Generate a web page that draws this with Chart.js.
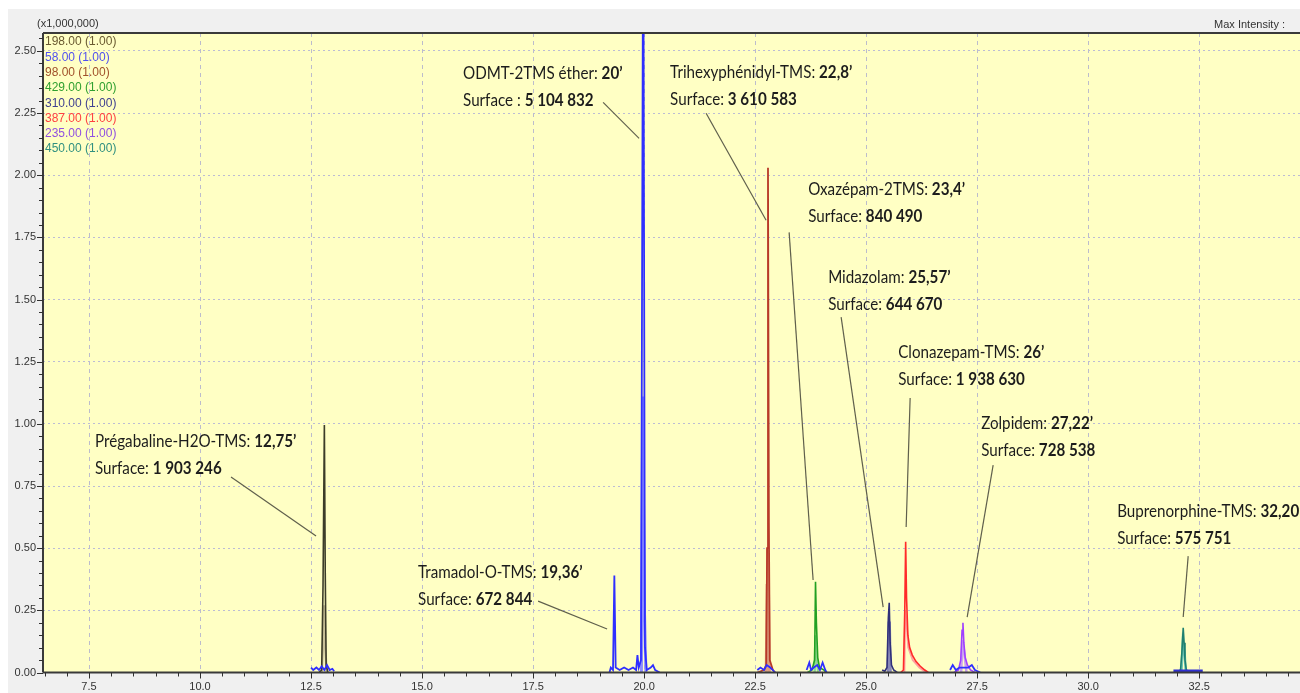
<!DOCTYPE html>
<html><head><meta charset="utf-8">
<script src="https://cdn.jsdelivr.net/npm/chart.js@4.4.0/dist/chart.umd.min.js"></script>
<style>html,body{margin:0;padding:0;background:#fff;overflow:hidden}</style>
</head><body>
<canvas id="c" width="1300" height="693"></canvas>
<script>
// ---------- DATA (retention time in min, intensity in x1,000,000) ----------
const xTickValues = [7.5, 10.0, 12.5, 15.0, 17.5, 20.0, 22.5, 25.0, 27.5, 30.0, 32.5];
const yTickValues = [0, 0.25, 0.5, 0.75, 1.0, 1.25, 1.5, 1.75, 2.0, 2.25, 2.5];
const ionLabels = ['198.00 (1.00)', '58.00 (1.00)', '98.00 (1.00)', '429.00 (1.00)', '310.00 (1.00)', '387.00 (1.00)', '235.00 (1.00)', '450.00 (1.00)'];

const ion198 = [[12.68,0],[12.74,0.01],[12.77,0.35],[12.80,0.995],[12.82,0.4],[12.84,0.03],[12.88,0]];
const ion198q = [[12.74,0],[12.78,0.15],[12.80,0.27],[12.82,0.1],[12.85,0]];

const ion58a = [[12.50,0.02],[12.55,0.01],[12.62,0.02],[12.68,0.01],[12.74,0.025],[12.80,0.01],[12.86,0.03],[12.92,0.01],[12.98,0.015],[13.02,0.005]];
const ion58b = [[19.22,0],[19.25,0.02],[19.30,0.01],[19.33,0.39],[19.36,0.02],[19.45,0.01],[19.55,0.02],[19.65,0.01],[19.75,0.02],[19.82,0.01],[19.85,0.07],[19.88,0.02],[19.93,0.05],[19.98,3.2],[20.02,0.1],[20.06,0.01],[20.15,0.02],[20.20,0.03],[20.25,0.01],[20.35,0]];
const ion58c = [[22.55,0.01],[22.62,0.02],[22.70,0.01],[22.76,0.03],[22.84,0.02],[22.90,0.01],[22.95,0]];
const ion58d = [[23.66,0.01],[23.72,0.04],[23.76,0.01],[23.82,0.02],[23.90,0.03],[23.96,0.01],[24.02,0.04],[24.08,0.01],[24.11,0]];
const ion58e = [[26.89,0.01],[26.95,0.03],[27.02,0.01],[27.10,0.02],[27.30,0.02],[27.38,0.03],[27.45,0.01],[27.57,0]];
const ion58f = [[31.92,0.006],[32.10,0.006],[32.30,0.006],[32.58,0.006]];
const ion58q = [[19.94,0],[19.97,1.11],[19.99,0.6],[20.01,0.23],[20.04,0]];

const ion98 = [[22.55,0],[22.70,0.01],[22.75,0.03],[22.77,0.5],[22.79,2.03],[22.81,0.6],[22.83,0.05],[22.90,0.01],[22.95,0]];
const ion98q = [[22.75,0],[22.77,0.35],[22.78,0.50],[22.80,0.35],[22.82,0]];

const ion429 = [[23.68,0],[23.78,0.01],[23.84,0.05],[23.86,0.365],[23.88,0.2],[23.91,0.06],[23.95,0.02],[24.05,0.01],[24.10,0]];
const ion429q = [[23.84,0],[23.86,0.15],[23.89,0.05],[23.92,0]];

const ion310 = [[25.36,0.01],[25.42,0.005],[25.47,0.02],[25.50,0.22],[25.52,0.28],[25.54,0.12],[25.57,0.03],[25.62,0.01],[25.70,0]];
const ion310q = [[25.49,0],[25.51,0.2],[25.53,0.2],[25.55,0]];

const ion387 = [[25.78,0],[25.84,0.01],[25.87,0.25],[25.89,0.526],[25.91,0.3],[25.94,0.15],[25.98,0.1],[26.04,0.07],[26.12,0.045],[26.22,0.025],[26.32,0.01],[26.40,0]];
const ion387q = [[25.86,0],[25.88,0.25],[25.91,0.2],[25.95,0.1],[26.05,0.05],[26.20,0.02],[26.35,0]];

const ion235 = [[26.98,0],[27.08,0.01],[27.13,0.05],[27.16,0.17],[27.18,0.20],[27.20,0.12],[27.23,0.06],[27.28,0.03],[27.35,0.01],[27.45,0]];
const ion235q = [[27.14,0],[27.17,0.13],[27.21,0.08],[27.26,0]];

const ion450 = [[31.98,0],[32.08,0.01],[32.11,0.08],[32.14,0.18],[32.16,0.12],[32.18,0.05],[32.21,0.01],[32.30,0]];
const ion450q = [[32.10,0],[32.13,0.12],[32.17,0.08],[32.20,0]];

// annotation texts
const annoName = ['Prégabaline-H2O-TMS: ','Tramadol-O-TMS: ','ODMT-2TMS éther: ','Trihexyphénidyl-TMS: ','Oxazépam-2TMS: ','Midazolam: ','Clonazepam-TMS: ','Zolpidem: ','Buprenorphine-TMS: '];
const annoTime = ['12,75’','19,36’','20’','22,8’','23,4’','25,57’','26’','27,22’','32,20’'];
const annoSurfLabel = ['Surface: ','Surface: ','Surface : ','Surface: ','Surface: ','Surface: ','Surface: ','Surface: ','Surface: '];
const annoSurface = ['1 903 246','672 844','5 104 832','3 610 583','840 490','644 670','1 938 630','728 538','575 751'];
// annotation layout in data units: text anchor [x,y], leader start [x,y], leader end [x,y]
const annoTextAt = [[7.635,0.906],[14.910,0.380],[15.923,2.386],[20.586,2.390],[23.694,1.919],[24.144,1.566],[25.721,1.264],[27.590,0.981],[30.653,0.625]];
const annoLeadFrom = [[10.698,0.786],[17.613,0.287],[19.077,2.293],[21.396,2.249],[23.266,1.770],[24.437,1.429],[25.991,1.104],[27.860,0.834],[32.252,0.468]];
const annoLeadTo = [[12.613,0.549],[19.167,0.175],[19.887,2.148],[22.748,1.819],[23.806,0.372],[25.383,0.263],[25.901,0.585],[27.275,0.223],[32.140,0.223]];

// ---------- STYLE ----------
const X_MIN = 6.464, X_MAX = 34.77, Y_MAX = 2.572;
const ionLegendColors = ['#6a5a30','#5050f0','#a0502a','#30a030','#404090','#ff4040','#9050e0','#309080'];
const pts = a => a.map(p => ({x:p[0], y:p[1]}));
const joinSegs = (...segs) => segs.reduce((acc, s, i) => acc.concat(i ? [{x:(acc[acc.length-1].x + s[0][0])/2, y:null}] : [], pts(s)), []);

function ds(data, color, width, order) {
  return {data: Array.isArray(data[0]) ? pts(data) : data, borderColor: color, borderWidth: width, order: order, pointRadius: 0, fill: false, spanGaps: false};
}
const datasets = [
  ds(ion198q, '#c8c098', 2.5, 5),
  ds(ion98q, '#dca080', 3, 5),
  ds(ion429q, '#90d890', 2.5, 5),
  ds(ion310q, '#8888b8', 2.5, 5),
  ds(ion387q, '#ffa0a0', 2, 5),
  ds(ion235q, '#c8a0f0', 2.5, 5),
  ds(ion450q, '#70c8b8', 2.5, 5),
  ds(ion58q, '#8c8cff', 3, 4),
  ds(ion198, '#3c3c28', 1.6, 2),
  ds(ion98, '#b83a28', 1.8, 2),
  ds(ion429, '#22a022', 1.6, 2),
  ds(ion310, '#30307a', 1.6, 2),
  ds(ion387, '#ff2a2a', 1.6, 2),
  ds(ion235, '#a040ff', 1.6, 2),
  ds(ion450, '#1f8070', 1.6, 2),
  ds(joinSegs(ion58a, ion58b, ion58c, ion58d, ion58e), '#2f2fff', 1.8, 1),
  ds(ion58f, '#2f2fd0', 3, 1)
];

const TEXT_SX = 0.92;
const framePlugin = {
  id: 'frame',
  beforeDraw(chart) {
    const {ctx, chartArea: a} = chart;
    ctx.save();
    ctx.fillStyle = '#ffffff';
    ctx.fillRect(0, 0, chart.width, chart.height);
    ctx.fillStyle = '#f0f0f0';
    ctx.fillRect(8, 9, chart.width - 8, chart.height - 9);
    ctx.fillStyle = '#ffffc4';
    ctx.fillRect(a.left, a.top, a.right - a.left, a.bottom - a.top);
    ctx.restore();
  },
  afterDraw(chart) {
    const {ctx, chartArea: a} = chart;
    const xs = chart.scales.x, ys = chart.scales.y;
    ctx.save();
    // axes & frame
    ctx.strokeStyle = '#3a3a3a';
    ctx.lineWidth = 2;
    ctx.beginPath();
    ctx.moveTo(a.left, a.top); ctx.lineTo(a.right, a.top);
    ctx.moveTo(a.left, a.top); ctx.lineTo(a.left, a.bottom);
    ctx.moveTo(a.left, a.bottom); ctx.lineTo(a.right, a.bottom);
    ctx.stroke();
    // tick marks
    ctx.lineWidth = 1;
    ctx.strokeStyle = '#303030';
    ctx.beginPath();
    for (let v = 6.5; v <= X_MAX; v += 0.5) {
      const px = Math.round(xs.getPixelForValue(v)) + 0.5;
      const major = Math.abs(v / 2.5 - Math.round(v / 2.5)) < 1e-6;
      ctx.moveTo(px, a.bottom); ctx.lineTo(px, a.bottom + (major ? 6 : 4));
    }
    for (let v = 0; v <= Y_MAX; v += 0.05) {
      const py = Math.round(ys.getPixelForValue(v)) + 0.5;
      const major = Math.abs(v / 0.25 - Math.round(v / 0.25)) < 1e-6;
      ctx.moveTo(a.left, py); ctx.lineTo(a.left - (major ? 6 : 4), py);
    }
    ctx.stroke();
    // header texts
    ctx.fillStyle = '#333';
    ctx.font = '11px "Liberation Sans", Arial, sans-serif';
    ctx.textBaseline = 'middle';
    ctx.textAlign = 'left';
    ctx.fillText('(x1,000,000)', 37, 24);
    ctx.textAlign = 'right';
    ctx.fillText('Max Intensity :', 1285, 25);
    // ion legend
    ctx.textAlign = 'left';
    ctx.font = '12px "Liberation Sans", Arial, sans-serif';
    ionLabels.forEach((t, i) => {
      ctx.fillStyle = ionLegendColors[i];
      ctx.fillText(t, 45, 42 + i * 15.3);
    });
    // annotations
    ctx.strokeStyle = '#5f5f4c';
    ctx.lineWidth = 1.2;
    annoName.forEach((name, i) => {
      const fx = xs.getPixelForValue(annoLeadFrom[i][0]), fy = ys.getPixelForValue(annoLeadFrom[i][1]);
      const tx = xs.getPixelForValue(annoLeadTo[i][0]), ty = ys.getPixelForValue(annoLeadTo[i][1]);
      ctx.beginPath(); ctx.moveTo(fx, fy); ctx.lineTo(tx, ty); ctx.stroke();
    });
    ctx.textBaseline = 'alphabetic';
    ctx.fillStyle = '#1c1c1c';
    const reg = '16.5px Lato, "Open Sans", sans-serif';
    const bold = 'bold 16.5px Lato, "Open Sans", sans-serif';
    annoName.forEach((name, i) => {
      const px = xs.getPixelForValue(annoTextAt[i][0]);
      const py = ys.getPixelForValue(annoTextAt[i][1]);
      ctx.save();
      ctx.translate(px, py);
      ctx.scale(TEXT_SX, 1);
      ctx.font = reg; ctx.fillText(name, 0, 0);
      let w = ctx.measureText(name).width;
      ctx.font = bold; ctx.fillText(annoTime[i], w, 0);
      ctx.font = reg; ctx.fillText(annoSurfLabel[i], 0, 27);
      w = ctx.measureText(annoSurfLabel[i]).width;
      ctx.font = bold; ctx.fillText(annoSurface[i], w, 27);
      ctx.restore();
    });
    ctx.restore();
  }
};

new Chart(document.getElementById('c'), {
  type: 'line',
  data: {datasets},
  options: {
    responsive: false, animation: false, devicePixelRatio: 1,
    layout: {padding: {top: 33, left: 0, right: 0, bottom: 0}},
    plugins: {legend: {display: false}, tooltip: {enabled: false}},
    elements: {point: {radius: 0}, line: {tension: 0}},
    scales: {
      x: {
        type: 'linear', min: X_MIN, max: X_MAX,
        afterBuildTicks: s => { s.ticks = xTickValues.map(v => ({value: v})); },
        afterFit: s => { s.height = 20.5; },
        ticks: {callback: v => Number(v).toFixed(1), font: {family: '"Liberation Sans", Arial, sans-serif', size: 11}, color: '#333', padding: 8, maxRotation: 0, autoSkip: false},
        grid: {color: '#bcbccc', lineWidth: 1, drawTicks: false},
        border: {display: false, dash: [4, 4]}
      },
      y: {
        type: 'linear', min: 0, max: Y_MAX,
        afterBuildTicks: s => { s.ticks = yTickValues.map(v => ({value: v})); },
        afterFit: s => { s.width = 43; },
        ticks: {callback: v => Number(v).toFixed(2), font: {family: '"Liberation Sans", Arial, sans-serif', size: 11}, color: '#333', padding: 7, autoSkip: false},
        grid: {color: '#bcbcd4', lineWidth: 1, drawTicks: false},
        border: {display: false, dash: [2, 3]}
      }
    }
  },
  plugins: [framePlugin]
});
</script>
</body></html>
